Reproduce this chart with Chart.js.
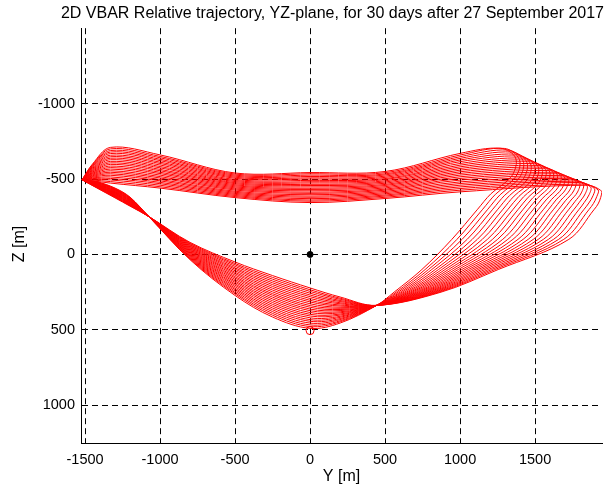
<!DOCTYPE html>
<html>
<head>
<meta charset="utf-8">
<script src="https://cdn.jsdelivr.net/npm/chart.js@4.4.1/dist/chart.umd.min.js"></script>
<style>
  html, body { margin: 0; padding: 0; background: #fff; }
  canvas { display: block; }
</style>
</head>
<body>
<canvas id="trajectory" width="607" height="486"></canvas>
<script>
const titleText = "2D VBAR Relative trajectory, YZ-plane, for 30 days after 27 September 2017";
const xLabel = "Y [m]";
const yLabel = "Z [m]";
const xTicks = [-1500, -1000, -500, 0, 500, 1000, 1500];
const yTicks = [-1000, -500, 0, 500, 1000];

// cusp on the left, and the two pinch points every loop passes through
const vertex = [-1520, -495];
const crossRight = [443, 338];
const crossLeft = [-1076, -252];

// upper pass: Z read at fixed Y stations, one row per loop
const upperY = [-1450, -1330, -1000, -500, 0, 500, 1000];
const upperZ = [
  [-600, -710, -660, -540, -543, -550, -670],
  [-595, -700, -650, -533, -535, -542, -659],
  [-590, -689, -641, -526, -526, -534, -648],
  [-585, -679, -631, -519, -517, -527, -637],
  [-581, -669, -622, -512, -508, -519, -626],
  [-576, -658, -612, -505, -500, -511, -615],
  [-571, -648, -603, -497, -491, -503, -603],
  [-566, -638, -593, -490, -482, -496, -592],
  [-561, -628, -583, -483, -474, -488, -581],
  [-556, -617, -574, -476, -465, -480, -570],
  [-551, -607, -564, -469, -457, -472, -559],
  [-546, -597, -555, -462, -448, -464, -548],
  [-542, -586, -545, -455, -439, -457, -537],
  [-537, -576, -536, -448, -431, -449, -526],
  [-532, -566, -526, -441, -422, -441, -515],
  [-527, -555, -516, -434, -413, -433, -504],
  [-522, -545, -507, -427, -405, -426, -493],
  [-517, -535, -497, -419, -396, -418, -481],
  [-512, -525, -488, -412, -387, -410, -470],
  [-507, -514, -478, -405, -379, -402, -459],
  [-503, -504, -469, -398, -370, -394, -448],
  [-498, -494, -459, -391, -361, -387, -437],
  [-493, -483, -449, -384, -353, -379, -426],
  [-488, -473, -440, -377, -344, -371, -415]
];

// right end of each loop: approach, tip, two points on the way down [Y, Z]
const turnPts = [
  [[1270, -704], [1370, -640], [1345, -521], [1205, -402]],
  [[1295, -703], [1395, -630], [1371, -515], [1236, -399]],
  [[1320, -692], [1420, -621], [1396, -509], [1267, -396]],
  [[1345, -679], [1445, -611], [1422, -502], [1298, -393]],
  [[1370, -665], [1470, -601], [1448, -496], [1329, -390]],
  [[1395, -652], [1495, -591], [1474, -489], [1360, -387]],
  [[1420, -639], [1520, -582], [1499, -483], [1392, -385]],
  [[1445, -626], [1545, -572], [1525, -477], [1423, -382]],
  [[1470, -614], [1570, -563], [1551, -471], [1454, -379]],
  [[1495, -602], [1595, -553], [1577, -464], [1485, -376]],
  [[1520, -590], [1620, -543], [1602, -458], [1516, -373]],
  [[1545, -579], [1645, -534], [1628, -452], [1547, -370]],
  [[1570, -568], [1670, -524], [1654, -446], [1578, -367]],
  [[1595, -556], [1695, -514], [1680, -439], [1609, -364]],
  [[1620, -545], [1720, -505], [1705, -433], [1640, -362]],
  [[1645, -535], [1745, -495], [1731, -427], [1671, -359]],
  [[1670, -524], [1770, -486], [1757, -421], [1702, -356]],
  [[1695, -514], [1795, -476], [1783, -414], [1733, -353]],
  [[1720, -505], [1820, -466], [1808, -408], [1765, -350]],
  [[1745, -495], [1845, -457], [1834, -402], [1796, -347]],
  [[1770, -486], [1870, -447], [1860, -396], [1827, -344]],
  [[1795, -477], [1895, -437], [1886, -389], [1858, -341]],
  [[1820, -467], [1920, -428], [1911, -383], [1889, -338]],
  [[1845, -459], [1945, -418], [1937, -377], [1920, -335]]
];

// right lobe: Y read at fixed Z stations
const arcZ = [-300, -100, 100, 250];
const arcY = [
  [1117, 945, 745, 560],
  [1151, 979, 767, 574],
  [1185, 1013, 789, 587],
  [1218, 1047, 811, 601],
  [1252, 1081, 834, 614],
  [1286, 1115, 856, 628],
  [1320, 1148, 878, 642],
  [1354, 1182, 900, 655],
  [1388, 1216, 922, 669],
  [1421, 1250, 944, 682],
  [1455, 1284, 966, 696],
  [1489, 1318, 988, 710],
  [1523, 1352, 1011, 723],
  [1557, 1386, 1033, 737],
  [1591, 1420, 1055, 751],
  [1624, 1454, 1077, 764],
  [1658, 1488, 1099, 778],
  [1692, 1521, 1121, 791],
  [1726, 1555, 1143, 805],
  [1760, 1589, 1165, 819],
  [1794, 1623, 1188, 832],
  [1827, 1657, 1210, 846],
  [1861, 1691, 1232, 859],
  [1895, 1725, 1254, 873]
];

// lower middle band: Z read at fixed Y stations
const midY = [200, 0, -250, -500, -800];
const midZ = [
  [455, 490, 415, 272, 35],
  [447, 478, 403, 262, 30],
  [440, 467, 391, 253, 25],
  [432, 455, 379, 243, 20],
  [425, 443, 367, 233, 15],
  [417, 432, 355, 224, 10],
  [410, 420, 343, 214, 5],
  [402, 408, 331, 204, 0],
  [395, 397, 319, 195, -5],
  [387, 385, 307, 185, -10],
  [380, 373, 295, 176, -15],
  [372, 362, 283, 166, -20],
  [365, 350, 271, 156, -25],
  [357, 339, 260, 147, -30],
  [350, 327, 248, 137, -35],
  [342, 315, 236, 127, -40],
  [335, 304, 224, 118, -45],
  [327, 292, 212, 108, -50],
  [320, 280, 200, 98, -55],
  [312, 269, 188, 89, -60],
  [305, 257, 176, 79, -65],
  [297, 245, 164, 69, -70],
  [290, 234, 152, 60, -75],
  [282, 222, 140, 50, -80]
];

// short wedge back up to the left cusp
const wedgeY = [-1200, -1300, -1420];
const wedgeZ = [
  [-380, -440, -482],
  [-377, -437, -480],
  [-375, -434, -478],
  [-372, -432, -477],
  [-370, -429, -475],
  [-367, -426, -473],
  [-364, -423, -471],
  [-362, -420, -469],
  [-359, -417, -467],
  [-357, -415, -466],
  [-354, -412, -464],
  [-351, -409, -462],
  [-349, -406, -460],
  [-346, -403, -458],
  [-343, -400, -456],
  [-341, -398, -455],
  [-338, -395, -453],
  [-336, -392, -451],
  [-333, -389, -449],
  [-330, -386, -447],
  [-328, -383, -445],
  [-325, -381, -444],
  [-323, -378, -442],
  [-320, -375, -440]
];

const target = [0, 0];
const start = [0, 505];

const fontFamily = "'Liberation Sans', Arial, sans-serif";

const loops = upperZ.map((row, k) => {
  const pts = [{x: vertex[0], y: vertex[1]}];
  upperY.forEach((y, i) => pts.push({x: y, y: row[i]}));
  turnPts[k].forEach(p => pts.push({x: p[0], y: p[1]}));
  arcZ.forEach((z, j) => pts.push({x: arcY[k][j], y: z}));
  pts.push({x: crossRight[0], y: crossRight[1]});
  midY.forEach((y, i) => pts.push({x: y, y: midZ[k][i]}));
  pts.push({x: crossLeft[0], y: crossLeft[1]});
  wedgeY.forEach((y, i) => pts.push({x: y, y: wedgeZ[k][i]}));
  pts.push({x: vertex[0], y: vertex[1]});
  return {
    data: pts,
    showLine: true,
    borderColor: "#ff0000",
    borderWidth: 1,
    pointRadius: 0,
    tension: 0.35,
    order: 1
  };
});

// vertical axis label, drawn a little below the axis centre like the original
const yLabelPlugin = {
  id: "yLabel",
  afterDraw(chart) {
    const c = chart.ctx;
    c.save();
    c.translate(20, 244);
    c.rotate(-Math.PI / 2);
    c.font = "16px " + fontFamily;
    c.fillStyle = "#000";
    c.textAlign = "center";
    c.textBaseline = "middle";
    c.fillText(yLabel, 0, 0);
    c.restore();
  }
};

const ctx = document.getElementById("trajectory").getContext("2d");

new Chart(ctx, {
  type: "scatter",
  data: {
    datasets: [
      {
        data: [{x: target[0], y: target[1]}],
        pointRadius: 3,
        pointBackgroundColor: "#000",
        pointBorderColor: "#000",
        order: 0
      },
      {
        data: [{x: start[0], y: start[1]}],
        pointRadius: 4,
        pointBackgroundColor: "rgba(0,0,0,0)",
        pointBorderColor: "#ff0000",
        pointBorderWidth: 1,
        order: 0
      },
      ...loops
    ]
  },
  plugins: [yLabelPlugin],
  options: {
    responsive: false,
    animation: false,
    devicePixelRatio: 1,
    events: [],
    layout: {
      padding: {top: 4, right: 3, left: 0, bottom: 0}
    },
    plugins: {
      legend: {display: false},
      tooltip: {enabled: false},
      title: {
        display: true,
        text: titleText,
        align: "end",
        color: "#000",
        font: {family: fontFamily, size: 16, weight: "normal"},
        padding: {top: 0, bottom: 5}
      }
    },
    scales: {
      x: {
        type: "linear",
        min: -1527,
        max: 1946,
        afterBuildTicks: s => { s.ticks = xTicks.map(v => ({value: v})); },
        afterFit: s => { s.height = 43; },
        grid: {color: "#000", lineWidth: 1, drawTicks: false},
        border: {display: true, color: "#000", width: 1, dash: [6, 4]},
        ticks: {
          color: "#000",
          padding: 8,
          autoSkip: false,
          maxRotation: 0,
          font: {family: fontFamily, size: 14.5},
          callback: v => String(v)
        },
        title: {
          display: true,
          text: xLabel,
          color: "#000",
          font: {family: fontFamily, size: 16},
          padding: {top: 0, bottom: 0}
        }
      },
      y: {
        type: "linear",
        reverse: true,
        min: -1500,
        max: 1250,
        afterBuildTicks: s => { s.ticks = yTicks.map(v => ({value: v})); },
        afterFit: s => { s.width = 81; },
        grid: {color: "#000", lineWidth: 1, drawTicks: false},
        border: {display: true, color: "#000", width: 1, dash: [6, 4]},
        ticks: {
          color: "#000",
          padding: 6,
          autoSkip: false,
          font: {family: fontFamily, size: 14.5},
          callback: v => String(v)
        },
        title: {display: false}
      }
    }
  }
});
</script>
</body>
</html>
